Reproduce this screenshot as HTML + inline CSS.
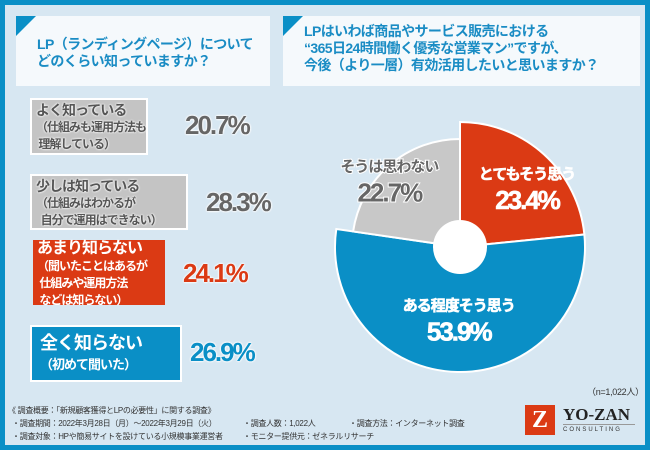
<!DOCTYPE html>
<html><head><meta charset="utf-8"><style>
body{margin:0;width:650px;height:450px;overflow:hidden;font-family:"Liberation Sans","Noto Sans CJK JP",sans-serif}
#wrap{position:absolute;left:0;top:0;width:640px;height:440px;border:5px solid #0a8fc6;background:#d7e7f2}
.tbox{position:absolute;background:#f5f9fc;color:#1a8cc4;font-size:14px;line-height:17px;font-weight:bold;letter-spacing:-0.6px;white-space:nowrap}
.tri{position:absolute;left:0;top:0;width:0;height:0;border-top:20px solid #0a8fc6;border-right:20px solid transparent}
.box{position:absolute;border:2px solid #fff;box-sizing:border-box;font-weight:bold;line-height:16px;white-space:nowrap;letter-spacing:-1px}
.g{background:#c4c4c4;color:#555;font-size:14px;text-shadow:0 0 2px #fff,0 0 2px #fff}
.pct{position:absolute;font-weight:bold;font-size:26px;letter-spacing:-2px;text-shadow:0 0 2px #fff,0 0 2px #fff,0 0 2px #fff}
.foot{position:absolute;font-size:8px;color:#333;white-space:nowrap;letter-spacing:-0.3px}
</style></head><body>
<div id="wrap"></div>
<div class="tbox" style="left:16px;top:16px;width:254px;height:70px"><div class="tri"></div><div style="padding:20px 0 0 21px">LP（ランディングページ）について<br>どのくらい知っていますか？</div></div>
<div class="tbox" style="left:283px;top:16px;width:357px;height:70px"><div class="tri"></div><div style="padding:7px 0 0 21px">LPはいわば商品やサービス販売における<br>“365日24時間働く優秀な営業マン”ですが、<br>今後（より一層）有効活用したいと思いますか？</div></div>

<div class="box g" style="left:30px;top:98px;width:118px;height:57px;padding:2px 4px">よく知っている<br><span style="font-size:12px">（仕組みも運用方法も<br>&nbsp;理解している）</span></div>
<div class="pct" style="left:185px;top:110px;color:#666">20.7%</div>
<div class="box g" style="left:30px;top:174px;width:158px;height:56px;padding:2px 4px">少しは知っている<br><span style="font-size:12px">（仕組みはわかるが<br>&nbsp;&nbsp;自分で運用はできない）</span></div>
<div class="pct" style="left:206px;top:187px;color:#666">28.3%</div>
<div class="box" style="left:33px;top:240px;width:132px;height:65px;padding:0 4px;background:#db3a14;color:#fff;font-size:16px;border:none;line-height:17px">あまり知らない<br><span style="font-size:12px;line-height:15px">（聞いたことはあるが<br>&nbsp;仕組みや運用方法<br>&nbsp;などは知らない）</span></div>
<div class="pct" style="left:183px;top:258px;color:#db3a14">24.1%</div>
<div class="box" style="left:30px;top:325px;width:152px;height:57px;padding:6px 8px;background:#0a8fc6;color:#fff;font-size:18px;line-height:20px">全く知らない<br><span style="font-size:13px">（初めて聞いた）</span></div>
<div class="pct" style="left:190px;top:337px;color:#0a8fc6">26.9%</div>

<svg id="pie" width="650" height="450" style="position:absolute;left:0;top:0"></svg>

<div class="foot" style="left:587px;top:385px;font-size:9px">（n=1,022人）</div>
<div class="foot" style="left:8px;top:405px">《 調査概要：「新規顧客獲得とLPの必要性」に関する調査》</div>
<div class="foot" style="left:12px;top:418px">・調査期間：2022年3月28日（月）～2022年3月29日（火）</div>
<div class="foot" style="left:12px;top:431px">・調査対象：HPや簡易サイトを設けている小規模事業運営者</div>
<div class="foot" style="left:243px;top:418px">・調査人数：1,022人</div>
<div class="foot" style="left:243px;top:431px">・モニター提供元：ゼネラルリサーチ</div>
<div class="foot" style="left:349px;top:418px">・調査方法：インターネット調査</div>
<div style="position:absolute;left:525px;top:405px;width:30px;height:30px;background:#db3a14;color:#fff;font:bold 24px 'Liberation Serif',serif;text-align:center;line-height:30px">Z</div>
<div style="position:absolute;left:563px;top:405px;font:bold 17px 'Liberation Serif',serif;color:#222">YO-ZAN</div>
<div style="position:absolute;left:563px;top:424px;width:72px;border-top:1px solid #999;font-size:6px;letter-spacing:2px;color:#333;padding-top:2px">CONSULTING</div>
<script>
const labels=["とてもそう思う","ある程度そう思う","そうは思わない"];
const values=[23.4,53.9,22.7];
const colors=["#db3a14","#0a8fc6","#c8c8c8"];
const radii=[125,125,108];
const svg=document.getElementById('pie');const NS="http://www.w3.org/2000/svg";
const cx=460,cy=247;const tot=values.reduce((a,b)=>a+b,0);
function pt(r,a){return [cx+r*Math.sin(a),cy-r*Math.cos(a)];}
let a0=0;
const lrad=[0.8,0.46,1.0];
values.forEach((v,i)=>{
 const a1=a0+v/tot*2*Math.PI,r=radii[i];
 const p0=pt(r,a0),p1=pt(r,a1);
 const p=document.createElementNS(NS,'path');
 p.setAttribute('d',`M${cx},${cy}L${p0[0]},${p0[1]}A${r},${r} 0 ${a1-a0>Math.PI?1:0} 1 ${p1[0]},${p1[1]}Z`);
 p.setAttribute('fill',colors[i]);p.setAttribute('stroke','#fff');p.setAttribute('stroke-width','2');
 
 
 svg.appendChild(p);
 const am=(a0+a1)/2,lp=pt(r*lrad[i],am);
 const col=i==2?'#666':'#fff';
 [[labels[i],lp[1]+6,15],[v.toFixed(1)+'%',lp[1]+36,26]].forEach(([t,y,fs],k)=>{
  const tx=document.createElementNS(NS,'text');
  tx.setAttribute('x',lp[0]);tx.setAttribute('y',y);tx.setAttribute('text-anchor','middle');
  tx.setAttribute('font-size',fs);tx.setAttribute('font-weight','bold');tx.setAttribute('fill',col);
  tx.setAttribute('letter-spacing',k?'-2':'-1');
  tx.setAttribute('stroke','#fff');tx.setAttribute('stroke-width',i==2?'2':'0.6');tx.setAttribute('paint-order','stroke');
  tx.textContent=t;
  
  
  svg.appendChild(tx);
 });
 a0=a1;
});
const h=document.createElementNS(NS,'circle');h.setAttribute('cx',cx);h.setAttribute('cy',cy);h.setAttribute('r',27);h.setAttribute('fill','#fff');


svg.appendChild(h);
</script>
</body></html>
